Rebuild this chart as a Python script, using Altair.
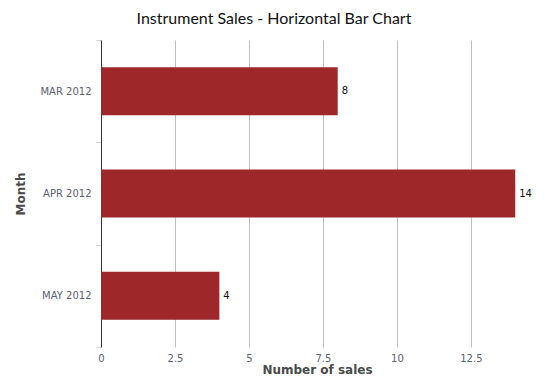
import altair as alt
import pandas as pd

months = ["MAR 2012", "APR 2012", "MAY 2012"]
sales = [8, 14, 4]

df = pd.DataFrame({"Month": months, "Sales": sales})

y_enc = alt.Y("Month:N", sort=months, title="Month",
              scale=alt.Scale(paddingInner=0, paddingOuter=0),
              axis=alt.Axis(tickBand="extent", tickColor="#c8d4e0", tickSize=5,
                            domainColor="#333333", labelColor="#5c6070",
                            labelFont="DejaVu Sans", labelFontSize=10,
                            labelPadding=5, titleFont="DejaVu Sans",
                            titleFontSize=12, titleFontWeight="bold",
                            titleColor="#4a4a4a", titlePadding=12, grid=False))

x_enc = alt.X("Sales:Q", title="Number of sales",
              scale=alt.Scale(domain=[0, 14.6], nice=False),
              axis=alt.Axis(values=[0, 2.5, 5, 7.5, 10, 12.5], format=".1~f",
                            grid=True, gridColor="#c0c0c0", domain=False,
                            ticks=False, labelColor="#5c6070", labelFlush=False,
                            labelFont="DejaVu Sans", labelFontSize=10,
                            labelPadding=6, titleFont="DejaVu Sans",
                            titleFontSize=12, titleFontWeight="bold",
                            titleColor="#4a4a4a", titlePadding=1))

bars = alt.Chart(df).mark_bar(color="#9e2729", size=48).encode(x=x_enc, y=y_enc)
labels = alt.Chart(df).mark_text(align="left", baseline="middle", dx=4,
                                 font="DejaVu Sans", fontSize=10,
                                 color="#111111").encode(
    x="Sales:Q", y=alt.Y("Month:N", sort=months), text="Sales:Q")

chart = (bars + labels).properties(
    width=432, height=307,
    title=alt.TitleParams("Instrument Sales - Horizontal Bar Chart",
                          font="Lato", fontSize=16, fontWeight="normal",
                          color="#111111", anchor="middle", frame="bounds",
                          offset=8),
    autosize=alt.AutoSizeParams(type="none"),
    padding={"left": 93, "top": 32, "right": 6, "bottom": 30},
).configure_view(stroke=None)

chart.save("out.html", embed_options={"renderer": "svg", "actions": False})
